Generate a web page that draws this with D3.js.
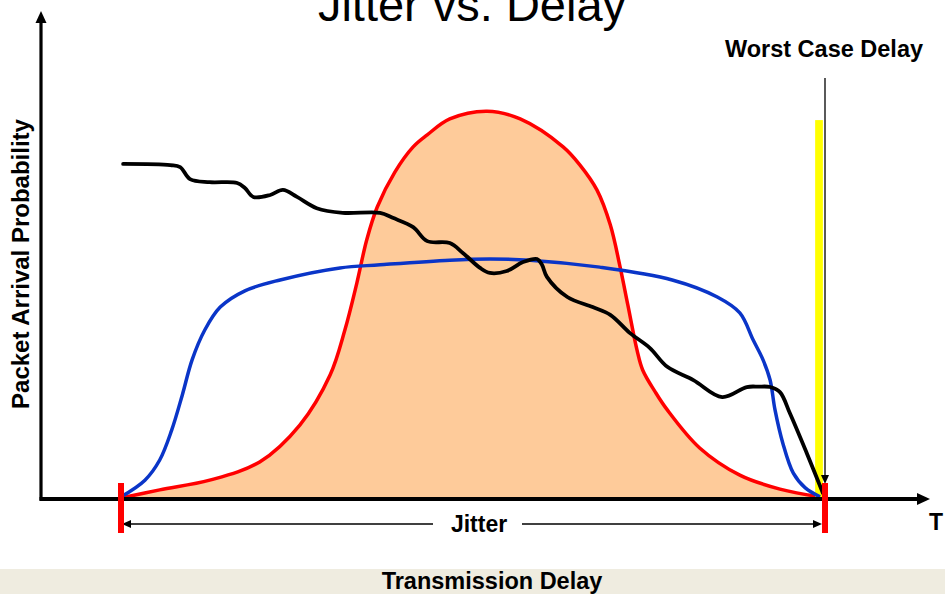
<!DOCTYPE html>
<html>
<head>
<meta charset="utf-8">
<script src="https://cdn.jsdelivr.net/npm/d3@7"></script>
<style>
  html, body { margin: 0; padding: 0; background: #ffffff; }
  svg { display: block; }
  text { font-family: "Liberation Sans", Arial, sans-serif; }
</style>
</head>
<body>
<svg id="chart" width="945" height="594"></svg>
<script>
// ---------- data (delay in % of jitter window, probability in % of peak) ----------
const titleText = "Jitter vs. Delay";
const yLabel = "Packet Arrival Probability";
const xLabel = "Transmission Delay";
const axisEndLabel = "T";
const jitterLabel = "Jitter";
const worstCaseLabel = "Worst Case Delay";

// red / peach distribution (narrow, tall)
const redDelay = [0, 5.5, 12.6, 19.7, 25.4, 29.7, 31.8, 33.5, 34.9, 36.4, 38.9, 41.5, 43.5, 46.7, 52.0,
                  56.7, 62.8, 65.2, 67.6, 69.5, 70.9, 72.0, 73.3, 74.1, 75.9, 77.6, 82.2, 87.9, 93.6, 99.3];
const redProb  = [0, 2.1, 4.6, 9.3, 18.8, 31.7, 43.3, 55.4, 66.5, 75.0, 84.0, 90.5, 93.6, 97.7, 99.7,
                  97.7, 90.5, 85.8, 79.4, 70.4, 59.5, 49.7, 38.1, 33.0, 27.3, 22.7, 12.9, 5.9, 2.3, 0.3];

// blue distribution (wide, flat)
const blueDelay = [0, 3.4, 5.5, 7.2, 8.7, 10.1, 11.9, 14.1, 17.6, 22.6, 31.1, 36.8, 46.7, 52.4, 58.1,
                   68.0, 78.3, 84.7, 87.9, 89.8, 91.2, 92.2, 92.9, 94.0, 95.5, 97.2, 99.3];
const blueProb  = [0.3, 4.6, 9.8, 17.5, 26.5, 35.6, 43.3, 49.2, 53.4, 56.2, 59.3, 60.1, 61.3, 61.6, 61.3,
                   59.5, 56.2, 51.8, 47.7, 40.7, 35.6, 30.4, 22.7, 14.2, 6.4, 2.6, 0.3];

// black irregular curve
const blackDelay = [0.3, 7.0, 8.4, 9.8, 12.6, 16.5, 17.6, 18.8, 21.2, 23.0, 25.0, 27.8, 31.5, 36.8, 38.6,
                    41.5, 43.5, 46.7, 48.6, 51.0, 52.4, 54.8, 57.1, 59.1, 59.8, 60.5, 63.4, 67.0, 69.5,
                    72.3, 75.1, 77.6, 81.3, 85.4, 88.9, 90.6, 92.2, 93.6, 95.0, 97.4, 99.7];
const blackProb  = [86.1, 85.8, 85.3, 82.2, 81.4, 81.2, 79.9, 77.6, 78.1, 79.4, 77.6, 74.7, 73.5, 73.5, 72.2,
                    69.8, 66.2, 65.7, 63.1, 59.3, 58.0, 58.5, 60.8, 61.6, 60.1, 57.0, 51.8, 49.2, 47.2,
                    42.5, 38.7, 33.8, 30.4, 26.0, 28.6, 28.7, 28.6, 27.3, 21.9, 11.6, 1.3];

// markers
const jitterRange = [0, 100];          // jitter window start / end (delay)
const worstCaseBar = [98.6, 99.7];     // yellow bar delay span
const worstCaseBarTop = 97.4;          // yellow bar height (probability)
const worstCaseDelay = 100;            // arrow position

// ---------- layout ----------
const svg = d3.select("#chart");
const W = 945, H = 594;

const x = d3.scaleLinear().domain([0, 100]).range([121, 825]);
const y = d3.scaleLinear().domain([0, 100]).range([498, 110]);

const axisY = 499;
const axisX = 41;

const zip = (a, b) => a.map((v, i) => [v, b[i]]);
const curve = d3.curveCatmullRom.alpha(0.5);

// bottom band
svg.append("rect").attr("x", 0).attr("y", 569).attr("width", W).attr("height", H - 569)
  .attr("fill", "#EFECE0");

// peach area
const redPts = zip(redDelay, redProb);
svg.append("path")
  .attr("d", d3.area().x(d => x(d[0])).y0(y(0)).y1(d => y(d[1])).curve(curve)(redPts))
  .attr("fill", "#FECB9A");
svg.append("path")
  .attr("d", d3.line().x(d => x(d[0])).y(d => y(d[1])).curve(curve)(redPts))
  .attr("fill", "none").attr("stroke", "#FF0000").attr("stroke-width", 3.5);

// yellow worst case bar
svg.append("rect")
  .attr("x", x(worstCaseBar[0])).attr("y", y(worstCaseBarTop))
  .attr("width", x(worstCaseBar[1]) - x(worstCaseBar[0]))
  .attr("height", y(0) - y(worstCaseBarTop))
  .attr("fill", "#FFFF00");

// blue
svg.append("path")
  .attr("d", d3.line().x(d => x(d[0])).y(d => y(d[1])).curve(curve)(zip(blueDelay, blueProb)))
  .attr("fill", "none").attr("stroke", "#0A35C8").attr("stroke-width", 3.5);

// black
svg.append("path")
  .attr("d", d3.line().x(d => x(d[0])).y(d => y(d[1])).curve(curve)(zip(blackDelay, blackProb)))
  .attr("fill", "none").attr("stroke", "#000000").attr("stroke-width", 3.8)
  .attr("stroke-linejoin", "round").attr("stroke-linecap", "round");

// axes
svg.append("line").attr("x1", axisX).attr("y1", axisY + 1.5).attr("x2", axisX).attr("y2", 20)
  .attr("stroke", "#000").attr("stroke-width", 3.2);
svg.append("path").attr("d", `M${axisX},11 L${axisX - 5.5},23 L${axisX + 5.5},23 Z`).attr("fill", "#000");

svg.append("line").attr("x1", axisX - 1.5).attr("y1", axisY).attr("x2", 918).attr("y2", axisY)
  .attr("stroke", "#000").attr("stroke-width", 3.8);
svg.append("path").attr("d", `M930,${axisY} L917,${axisY - 6} L917,${axisY + 6} Z`).attr("fill", "#000");

// worst-case arrow
const wx = x(worstCaseDelay);
svg.append("line").attr("x1", wx).attr("y1", 78).attr("x2", wx).attr("y2", 476)
  .attr("stroke", "#000").attr("stroke-width", 1.3);
svg.append("path").attr("d", `M${wx},484 L${wx - 4},475 L${wx + 4},475 Z`).attr("fill", "#000");

// jitter double arrow
const jy = 524;
const jx0 = x(jitterRange[0]) + 1, jx1 = x(jitterRange[1]) - 3;
svg.append("line").attr("x1", jx0 + 6).attr("y1", jy).attr("x2", 433).attr("y2", jy)
  .attr("stroke", "#000").attr("stroke-width", 1.6);
svg.append("line").attr("x1", 522).attr("y1", jy).attr("x2", jx1 - 6).attr("y2", jy)
  .attr("stroke", "#000").attr("stroke-width", 1.6);
svg.append("path").attr("d", `M${jx0},${jy} L${jx0 + 9},${jy - 4} L${jx0 + 9},${jy + 4} Z`).attr("fill", "#000");
svg.append("path").attr("d", `M${jx1},${jy} L${jx1 - 9},${jy - 4} L${jx1 - 9},${jy + 4} Z`).attr("fill", "#000");

// red jitter markers
jitterRange.forEach(d => {
  svg.append("rect").attr("x", x(d) - 3).attr("y", 483).attr("width", 6).attr("height", 50)
    .attr("fill", "#FF0000");
});

// texts
svg.append("text").attr("x", 472).attr("y", 21).attr("text-anchor", "middle")
  .attr("font-size", 47).attr("fill", "#000").text(titleText);

svg.append("text").attr("x", 824).attr("y", 57).attr("text-anchor", "middle")
  .attr("font-size", 23.5).attr("font-weight", "bold").attr("fill", "#000").text(worstCaseLabel);

svg.append("text").attr("transform", "translate(29,264) rotate(-90)").attr("text-anchor", "middle")
  .attr("font-size", 24).attr("font-weight", "bold").attr("fill", "#000").text(yLabel);

svg.append("text").attr("x", 479).attr("y", 532).attr("text-anchor", "middle")
  .attr("font-size", 23).attr("font-weight", "bold").attr("fill", "#000").text(jitterLabel);

svg.append("text").attr("x", 929).attr("y", 530)
  .attr("font-size", 23).attr("font-weight", "bold").attr("fill", "#000").text(axisEndLabel);

svg.append("text").attr("x", 492).attr("y", 589).attr("text-anchor", "middle")
  .attr("font-size", 23.5).attr("font-weight", "bold").attr("fill", "#000").text(xLabel);
</script>
</body>
</html>
